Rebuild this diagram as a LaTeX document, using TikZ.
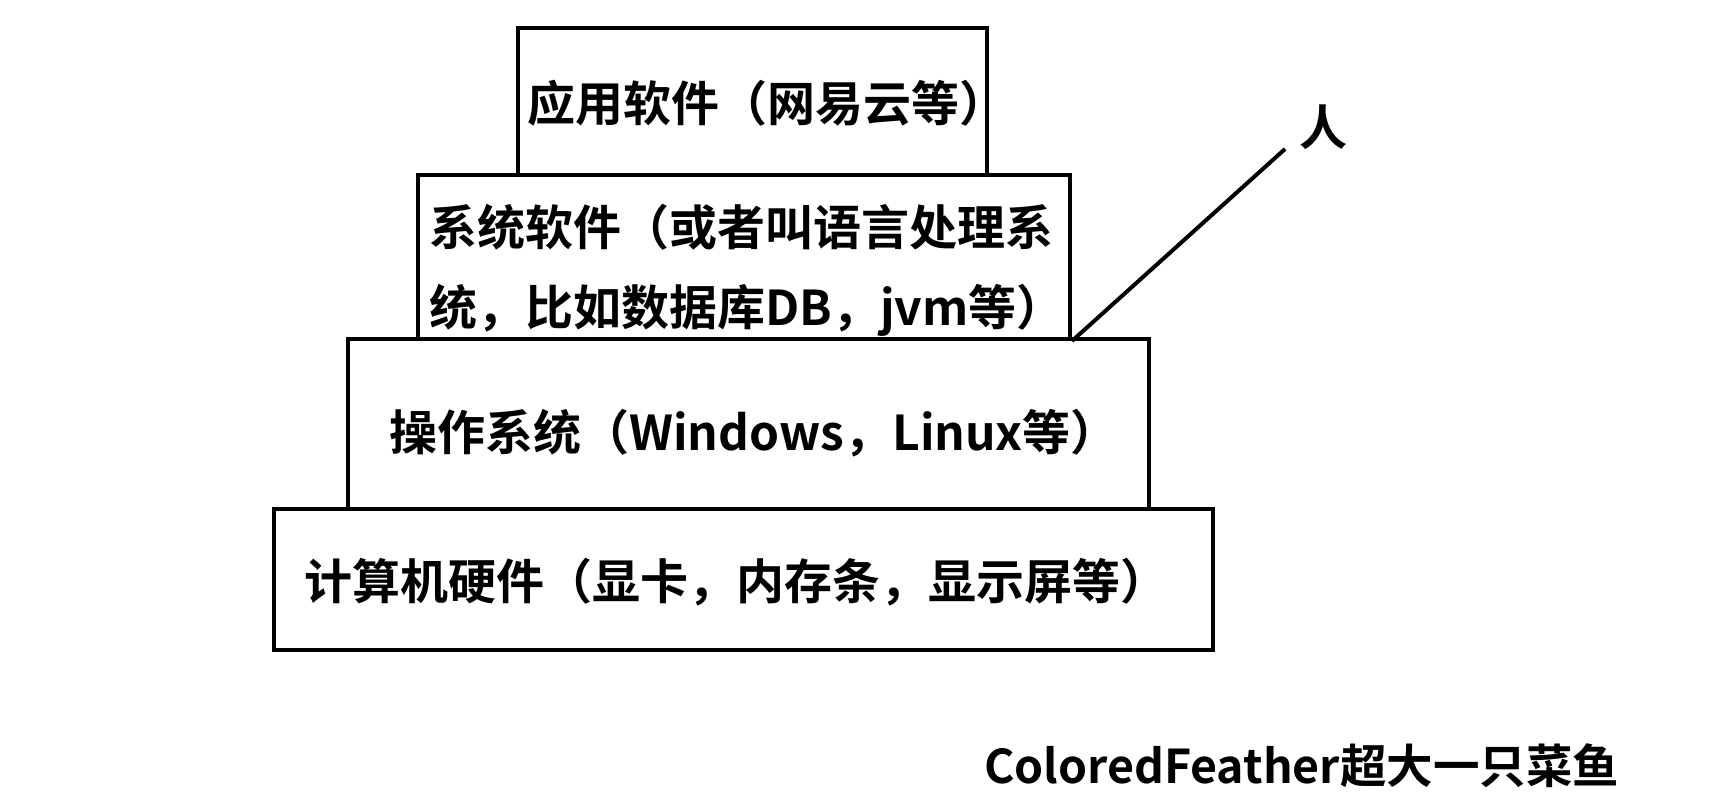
\documentclass[tikz,border=0pt]{standalone}
\usepackage{fontspec}
\newfontfamily\cjk[BoldFont={Noto Sans CJK SC Bold}]{Noto Sans CJK SC}
\begin{document}
\begin{tikzpicture}[x=1pt,y=-1pt,
  box/.style={draw=black,line width=4pt,rectangle,inner sep=0pt,fill=none},
  txt/.style={font=\cjk\bfseries\fontsize{48}{56}\selectfont,inner sep=0pt,anchor=west}]
\useasboundingbox[fill=white] (0,0) rectangle (1733,806);
\node[box,minimum width=469pt,minimum height=147pt] (app) at (752.5,101.5) {};
\node[box,minimum width=652pt,minimum height=164pt] (sys) at (744,257) {};
\node[box,minimum width=801pt,minimum height=170pt] (os) at (748.5,424) {};
\node[box,minimum width=939pt,minimum height=141pt] (hw) at (743.5,579.5) {};
\node[txt] (t1) at (527,103) {应用软件（网易云等）};
\node[txt] (t2a) at (429,227) {系统软件（或者叫语言处理系};
\node[txt] (t2b) at (429,310) {统，比如数据库DB，jvm等）};
\node[txt] (t3) at (389,433) {操作系统（Windows，Linux等）};
\node[txt] (t4) at (304,582) {计算机硬件（显卡，内存条，显示屏等）};
\node[txt,anchor=center] (person) at (1323,127) {人};
\coordinate (pend) at (1285,149);
\draw[line width=4pt] (sys.south east) -- (pend);
\node[txt,font=\cjk\bfseries\fontsize{46.5}{56}\selectfont] (footer) at (984,766) {ColoredFeather超大一只菜鱼};
\end{tikzpicture}
\end{document}
